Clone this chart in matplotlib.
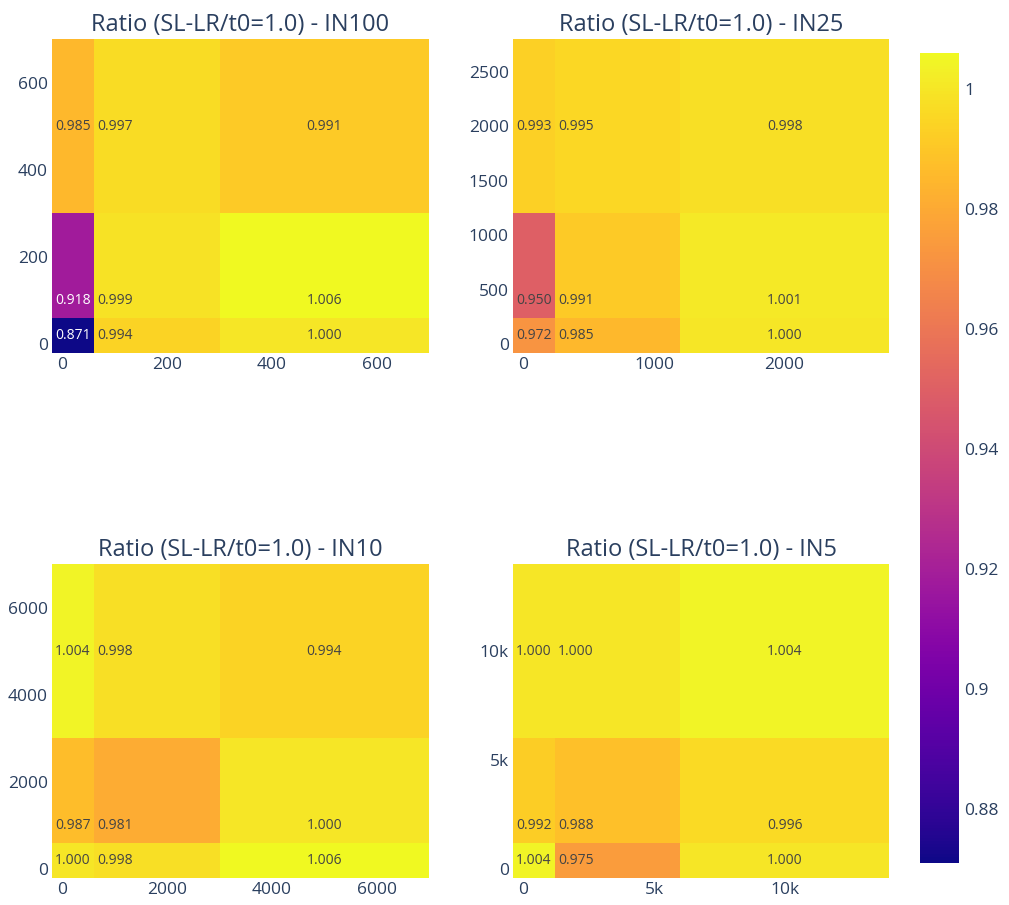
import numpy as np
import matplotlib
matplotlib.use("Agg")
import matplotlib.pyplot as plt
from matplotlib.ticker import MultipleLocator, FuncFormatter
from matplotlib.colors import Normalize

plt.rcParams['font.family'] = ['Open Sans', 'DejaVu Sans']

TEXT_COLOR = '#2a3f5f'

# bin centres (x and y share the same grid inside each panel)
grid_in100 = [20, 100, 500]
grid_in25 = [80, 400, 2000]
grid_in10 = [200, 1000, 5000]
grid_in5 = [400, 2000, 10000]

# ratio values, one row per y bin (bottom to top)
z_in100 = [[0.871, 0.994, 1.000],
           [0.918, 0.999, 1.006],
           [0.985, 0.997, 0.991]]
z_in25 = [[0.972, 0.985, 1.000],
          [0.950, 0.991, 1.001],
          [0.993, 0.995, 0.998]]
z_in10 = [[1.000, 0.998, 1.006],
          [0.987, 0.981, 1.000],
          [1.004, 0.998, 0.994]]
z_in5 = [[1.004, 0.975, 1.000],
         [0.992, 0.988, 0.996],
         [1.000, 1.000, 1.004]]

names = ['IN100', 'IN25', 'IN10', 'IN5']
grids = [grid_in100, grid_in25, grid_in10, grid_in5]
zs = [z_in100, z_in25, z_in10, z_in5]
tick_steps = [(200, 200), (1000, 500), (2000, 2000), (5000, 5000)]

zmin = min(np.min(z) for z in zs)
zmax = max(np.max(z) for z in zs)
norm = Normalize(vmin=zmin, vmax=zmax)
cmap = plt.get_cmap('plasma')


def centers_to_edges(c):
    # same brick edges a heatmap builds from centre coordinates
    c = np.asarray(c, dtype=float)
    mids = (c[:-1] + c[1:]) / 2
    return np.concatenate([[1.5 * c[0] - 0.5 * c[1]], mids, [1.5 * c[-1] - 0.5 * c[-2]]])


fig = plt.figure(figsize=(10.09, 9.05), dpi=100)
positions = [
    [0.0515, 0.6099, 0.3736, 0.347],
    [0.5084, 0.6099, 0.3727, 0.347],
    [0.0515, 0.0298, 0.3736, 0.347],
    [0.5084, 0.0298, 0.3727, 0.347],
]

mesh = None
for name, grid, z, pos, steps in zip(names, grids, zs, positions, tick_steps):
    ax = fig.add_axes(pos)
    z = np.asarray(z)
    edges = centers_to_edges(grid)
    mesh = ax.pcolormesh(edges, edges, z, cmap=cmap, norm=norm)
    ax.set_xlim(edges[0], edges[-1])
    ax.set_ylim(edges[0], edges[-1])

    for i, yv in enumerate(grid):
        for j, xv in enumerate(grid):
            r, g, b, _ = cmap(norm(z[i, j]))
            bright = (r * 299 + g * 587 + b * 114) / 1000
            col = '#444444' if bright > 0.5 else 'white'
            ax.text(xv, yv, f'{z[i, j]:.3f}', ha='center', va='center',
                    fontsize=10, color=col)

    # thousands shown as "k" once the axis reaches 10k
    big = edges[-1] >= 10000
    fmt = FuncFormatter(lambda v, p, big=big: f'{int(v / 1000)}k' if big and v != 0 else f'{v:g}')
    ax.xaxis.set_major_locator(MultipleLocator(steps[0]))
    ax.yaxis.set_major_locator(MultipleLocator(steps[1]))
    ax.xaxis.set_major_formatter(fmt)
    ax.yaxis.set_major_formatter(fmt)
    ax.tick_params(length=0, pad=3, labelsize=12.5, labelcolor=TEXT_COLOR)
    for s in ax.spines.values():
        s.set_visible(False)
    ax.set_title(f'Ratio (SL-LR/t0=1.0) - {name}', fontsize=17,
                 color=TEXT_COLOR, pad=6)

# shared colour bar
cax = fig.add_axes([0.9118, 0.0464, 0.0387, 0.895])
cb = fig.colorbar(mesh, cax=cax)
cb.outline.set_visible(False)
cb.set_ticks([0.88, 0.90, 0.92, 0.94, 0.96, 0.98, 1.00])
cb.set_ticklabels(['0.88', '0.9', '0.92', '0.94', '0.96', '0.98', '1'])
cax.tick_params(length=0, pad=4, labelsize=12.5, labelcolor=TEXT_COLOR)

fig.savefig('out.png', dpi=100)
